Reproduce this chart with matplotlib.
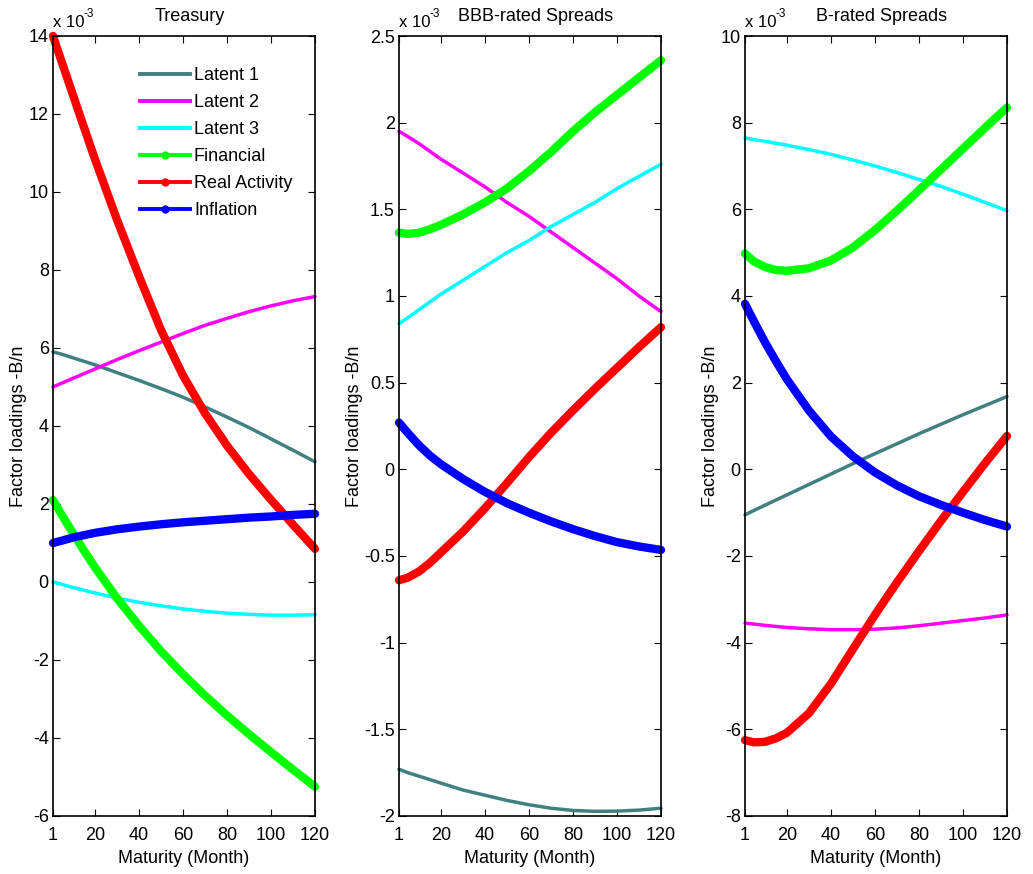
import numpy as np
import matplotlib
matplotlib.use("Agg")
import matplotlib.pyplot as plt
from matplotlib.lines import Line2D

plt.rcParams['font.family'] = ['Liberation Sans', 'DejaVu Sans']

mats = [1, 5, 10, 15, 20, 30, 40, 50, 60, 70, 80, 90, 100, 110, 120]

# Treasury (x 1e-3)
tr_latent1 = [5.90, 5.84, 5.75, 5.66, 5.57, 5.37, 5.17, 4.96, 4.74, 4.49, 4.23, 3.96, 3.67, 3.38, 3.08]
tr_latent2 = [5.00, 5.10, 5.22, 5.34, 5.46, 5.70, 5.93, 6.15, 6.37, 6.58, 6.76, 6.93, 7.08, 7.21, 7.32]
tr_latent3 = [0.00, -0.06, -0.14, -0.21, -0.28, -0.41, -0.52, -0.61, -0.69, -0.75, -0.80, -0.83, -0.85, -0.85, -0.84]
tr_financial = [2.10, 1.72, 1.26, 0.81, 0.38, -0.41, -1.12, -1.77, -2.36, -2.91, -3.42, -3.90, -4.36, -4.81, -5.25]
tr_real = [14.0, 13.33, 12.50, 11.67, 10.85, 9.30, 7.85, 6.47, 5.30, 4.33, 3.50, 2.77, 2.11, 1.47, 0.85]
tr_inflation = [1.00, 1.06, 1.14, 1.20, 1.26, 1.35, 1.42, 1.48, 1.53, 1.57, 1.61, 1.65, 1.68, 1.72, 1.75]

# BBB-rated spreads (x 1e-3)
bbb_latent1 = [-1.73, -1.75, -1.77, -1.79, -1.81, -1.85, -1.88, -1.91, -1.935, -1.955, -1.968, -1.973, -1.972, -1.966, -1.955]
bbb_latent2 = [1.95, 1.92, 1.88, 1.835, 1.79, 1.71, 1.63, 1.54, 1.46, 1.37, 1.28, 1.19, 1.10, 1.00, 0.91]
bbb_latent3 = [0.84, 0.875, 0.92, 0.965, 1.01, 1.09, 1.17, 1.25, 1.32, 1.40, 1.47, 1.54, 1.62, 1.69, 1.76]
bbb_financial = [1.365, 1.358, 1.365, 1.385, 1.41, 1.47, 1.54, 1.62, 1.72, 1.83, 1.95, 2.06, 2.16, 2.26, 2.36]
bbb_real = [-0.64, -0.625, -0.59, -0.54, -0.48, -0.36, -0.225, -0.08, 0.07, 0.21, 0.34, 0.465, 0.585, 0.705, 0.82]
bbb_inflation = [0.27, 0.21, 0.14, 0.08, 0.03, -0.055, -0.13, -0.195, -0.25, -0.30, -0.345, -0.385, -0.42, -0.445, -0.465]

# B-rated spreads (x 1e-3)
b_latent1 = [-1.05, -0.95, -0.83, -0.71, -0.59, -0.35, -0.11, 0.13, 0.36, 0.59, 0.82, 1.04, 1.26, 1.47, 1.68]
b_latent2 = [-3.55, -3.57, -3.60, -3.625, -3.65, -3.68, -3.70, -3.70, -3.69, -3.66, -3.61, -3.55, -3.49, -3.43, -3.36]
b_latent3 = [7.65, 7.61, 7.57, 7.525, 7.48, 7.38, 7.27, 7.14, 7.00, 6.85, 6.69, 6.53, 6.35, 6.16, 5.97]
b_financial = [4.98, 4.80, 4.67, 4.60, 4.58, 4.64, 4.82, 5.12, 5.52, 5.97, 6.44, 6.92, 7.40, 7.88, 8.35]
b_real = [-6.25, -6.30, -6.29, -6.21, -6.08, -5.63, -4.95, -4.15, -3.36, -2.61, -1.89, -1.19, -0.52, 0.14, 0.77]
b_inflation = [3.82, 3.42, 2.94, 2.50, 2.08, 1.36, 0.76, 0.30, -0.07, -0.37, -0.62, -0.82, -1.00, -1.17, -1.32]

names = ['Latent 1', 'Latent 2', 'Latent 3', 'Financial', 'Real Activity', 'Inflation']
colors = ['#408080', '#ff00ff', '#00ffff', '#00ff00', '#ff0000', '#0000ff']

panels = [
    ('Treasury', (-6, 14), np.arange(-6, 15, 2),
     [tr_latent1, tr_latent2, tr_latent3, tr_financial, tr_real, tr_inflation]),
    ('BBB-rated Spreads', (-2, 2.5), np.arange(-2, 2.51, 0.5),
     [bbb_latent1, bbb_latent2, bbb_latent3, bbb_financial, bbb_real, bbb_inflation]),
    ('B-rated Spreads', (-8, 10), np.arange(-8, 11, 2),
     [b_latent1, b_latent2, b_latent3, b_financial, b_real, b_inflation]),
]

fs = 13
fig = plt.figure(figsize=(10.33, 8.74), dpi=100)
lefts = [53, 399, 745]

for left, (title, ylim, yticks, series) in zip(lefts, panels):
    ax = fig.add_axes([left / 1033, 58 / 874, 262 / 1033, 780 / 874])
    for i, (vals, c) in enumerate(zip(series, colors)):
        lw = 2.5 if i < 3 else 6
        ax.plot(mats, vals, color=c, lw=lw, solid_capstyle='round',
                solid_joinstyle='round', clip_on=False)
    ax.set_xlim(1, 120)
    ax.set_ylim(*ylim)
    ax.set_xticks([1, 20, 40, 60, 80, 100, 120])
    ax.set_yticks(yticks)
    ax.set_yticklabels(['%g' % t for t in yticks])
    ax.tick_params(direction='in', top=True, right=True, length=5, labelsize=fs)
    ax.tick_params(axis='x', pad=8)
    ax.tick_params(axis='y', pad=3)
    for sp in ax.spines.values():
        sp.set_linewidth(1.2)
    ax.set_title(title, fontsize=fs, pad=11, x=0.522)
    ax.set_xlabel('Maturity (Month)', fontsize=fs, labelpad=4)
    ax.set_ylabel('Factor loadings -B/n', fontsize=fs, labelpad=1)
    # exponent label, MATLAB style
    ax.text(0.0, 1.0115, 'x 10', transform=ax.transAxes, fontsize=12,
            ha='left', va='baseline')
    ax.annotate('-3', xy=(0.0, 1.0115), xycoords='axes fraction',
                xytext=(22, 7), textcoords='offset points', fontsize=8.5,
                ha='left', va='baseline')
    if title == 'Treasury':
        handles = []
        for i, c in enumerate(colors):
            mk = '.' if i >= 3 else None
            handles.append(Line2D([0], [0], color=c, lw=2.8, marker=mk, markersize=10))
        ax.legend(handles, names, loc='upper left', bbox_to_anchor=(0.332, 0.960),
                  frameon=False, fontsize=fs, handlelength=2.77, handletextpad=0.22,
                  labelspacing=0.55, borderpad=0, borderaxespad=0)

fig.savefig('out.png', dpi=100)
